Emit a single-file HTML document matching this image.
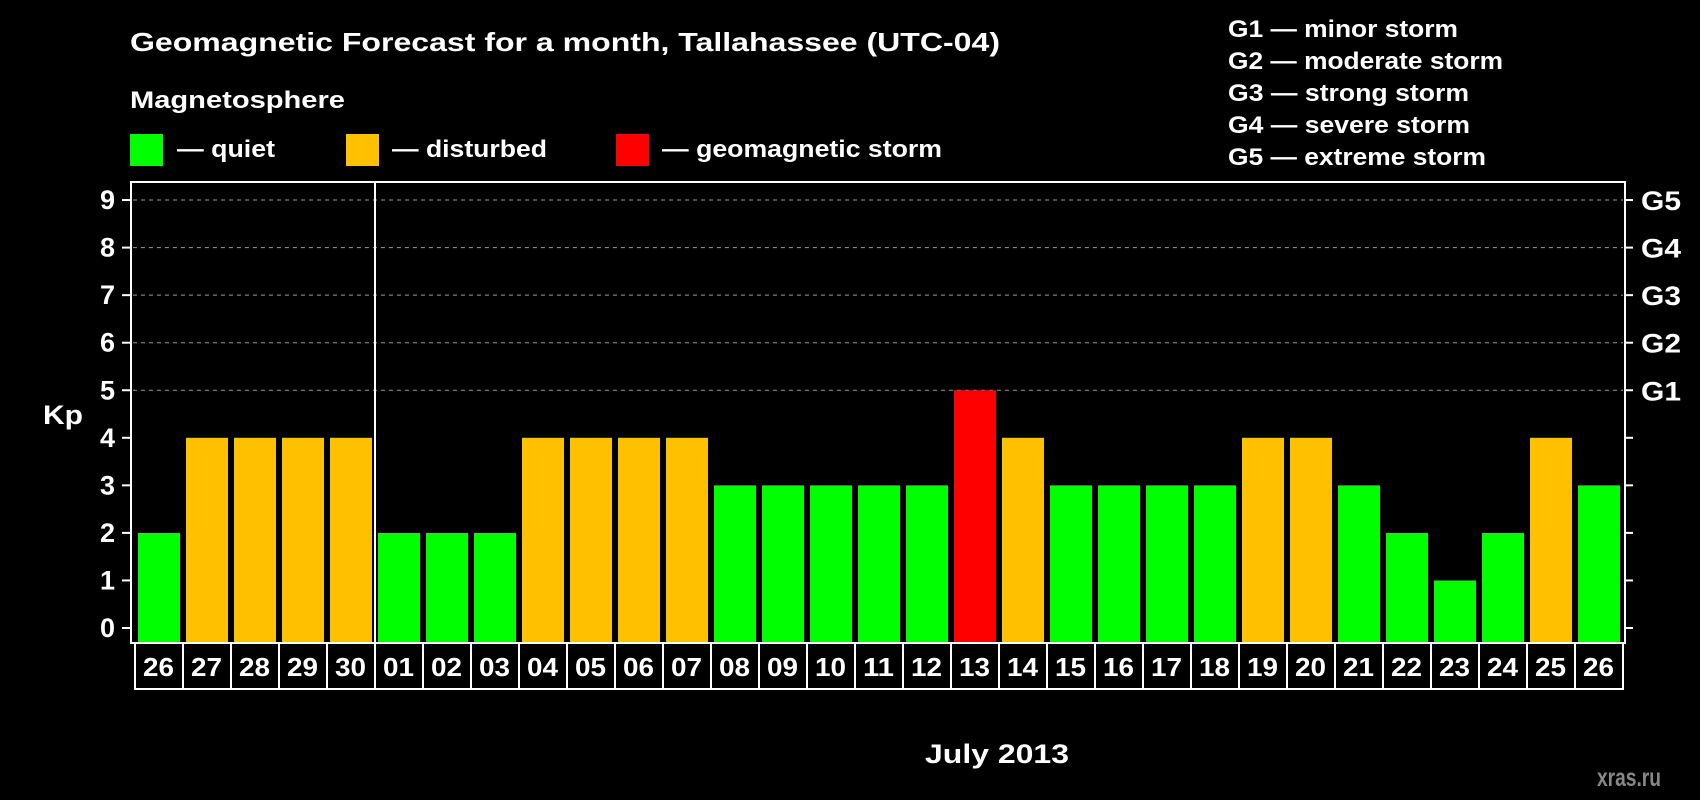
<!DOCTYPE html>
<html><head><meta charset="utf-8"><style>
body{margin:0;background:#000;width:1700px;height:800px;overflow:hidden}
svg{display:block;font-family:"Liberation Sans",Arial,sans-serif;font-weight:bold}
</style></head><body>
<svg id="c" width="1700" height="800" viewBox="0 0 1700 800">
<rect width="1700" height="800" fill="#000"/>
<text x="130" y="51" fill="#fff" font-size="26" textLength="870" lengthAdjust="spacingAndGlyphs">Geomagnetic Forecast for a month, Tallahassee (UTC-04)</text>
<text x="130" y="108" fill="#fff" font-size="24" textLength="215" lengthAdjust="spacingAndGlyphs">Magnetosphere</text>
<g><rect x="130" y="134" width="33" height="32" fill="#00ff00"/><text x="177" y="157" fill="#fff" font-size="24" textLength="98" lengthAdjust="spacingAndGlyphs">— quiet</text></g>
<g><rect x="346" y="134" width="33" height="32" fill="#ffc000"/><text x="392" y="157" fill="#fff" font-size="24" textLength="155" lengthAdjust="spacingAndGlyphs">— disturbed</text></g>
<g><rect x="616" y="134" width="33" height="32" fill="#ff0000"/><text x="662" y="157" fill="#fff" font-size="24" textLength="280" lengthAdjust="spacingAndGlyphs">— geomagnetic storm</text></g>
<g fill="#fff" font-size="24">
<text x="1228" y="37" textLength="230" lengthAdjust="spacingAndGlyphs">G1 — minor storm</text>
<text x="1228" y="69" textLength="275" lengthAdjust="spacingAndGlyphs">G2 — moderate storm</text>
<text x="1228" y="101" textLength="241" lengthAdjust="spacingAndGlyphs">G3 — strong storm</text>
<text x="1228" y="133" textLength="242" lengthAdjust="spacingAndGlyphs">G4 — severe storm</text>
<text x="1228" y="165" textLength="258" lengthAdjust="spacingAndGlyphs">G5 — extreme storm</text>
</g>
<text x="43" y="424" fill="#fff" font-size="27" textLength="40" lengthAdjust="spacingAndGlyphs">Kp</text>
<text x="925" y="763" fill="#fff" font-size="27" textLength="144" lengthAdjust="spacingAndGlyphs">July 2013</text>
<text x="1597" y="786" fill="#888" font-size="25" textLength="64" lengthAdjust="spacingAndGlyphs">xras.ru</text>
<g id="plot"></g>
</svg>
<script>
const days=["26","27","28","29","30","01","02","03","04","05","06","07","08","09","10","11","12","13","14","15","16","17","18","19","20","21","22","23","24","25","26"];
const kpValues=[2,4,4,4,4,2,2,2,4,4,4,4,3,3,3,3,3,5,4,3,3,3,3,4,4,3,2,1,2,4,3];
const yTicks=[0,1,2,3,4,5,6,7,8,9];
const gLabels=["","","","","","G1","G2","G3","G4","G5"];
const NS="http://www.w3.org/2000/svg";
const g=document.getElementById('plot');
const L=131,R=1625,T=182,B=643,X0=135,P=48;
const y=v=>628-v*47.55;
const x=i=>X0+i*P;
function mk(t,a,txt){const e=document.createElementNS(NS,t);for(const k in a)e.setAttribute(k,a[k]);if(txt!==undefined)e.textContent=txt;g.appendChild(e);return e;}
yTicks.forEach((v,i)=>{
 if(v>=5){const gl=mk('line',{x1:L+2,x2:R-2,y1:y(v),y2:y(v),stroke:'#999','stroke-width':1,'stroke-dasharray':'4,4'});
 
 }
 mk('line',{x1:122,x2:L,y1:y(v),y2:y(v),stroke:'#fff','stroke-width':2});
 mk('line',{x1:R,x2:R+8,y1:y(v),y2:y(v),stroke:'#fff','stroke-width':2});
 const t=mk('text',{x:115,y:y(v)+9,fill:'#fff','font-size':27,'text-anchor':'end'},String(v));
 
 
 if(gLabels[i]){const gt=mk('text',{x:1641,y:y(v)+10,fill:'#fff','font-size':27,textLength:40,lengthAdjust:'spacingAndGlyphs'},gLabels[i]);
 
 }
});
kpValues.forEach((v,i)=>{
 const col=v>=5?'#ff0000':(v>=4?'#ffc000':'#00ff00');
 const b=mk('rect',{x:x(i)+3,y:y(v),width:42,height:B-y(v),fill:col});
 
 
 const bx=mk('rect',{x:x(i),y:B,width:P,height:46,fill:'none',stroke:'#fff','stroke-width':2});
 
 
 const t=mk('text',{x:x(i)+8,y:B+33,fill:'#fff','font-size':26,textLength:31,lengthAdjust:'spacingAndGlyphs'},days[i]);
 
 
});
const fr=mk('rect',{x:L,y:T,width:R-L,height:B-T,fill:'none',stroke:'#fff','stroke-width':2});


const sep=mk('line',{x1:x(5),x2:x(5),y1:T,y2:B+46,stroke:'#fff','stroke-width':2});


</script>
</body></html>
